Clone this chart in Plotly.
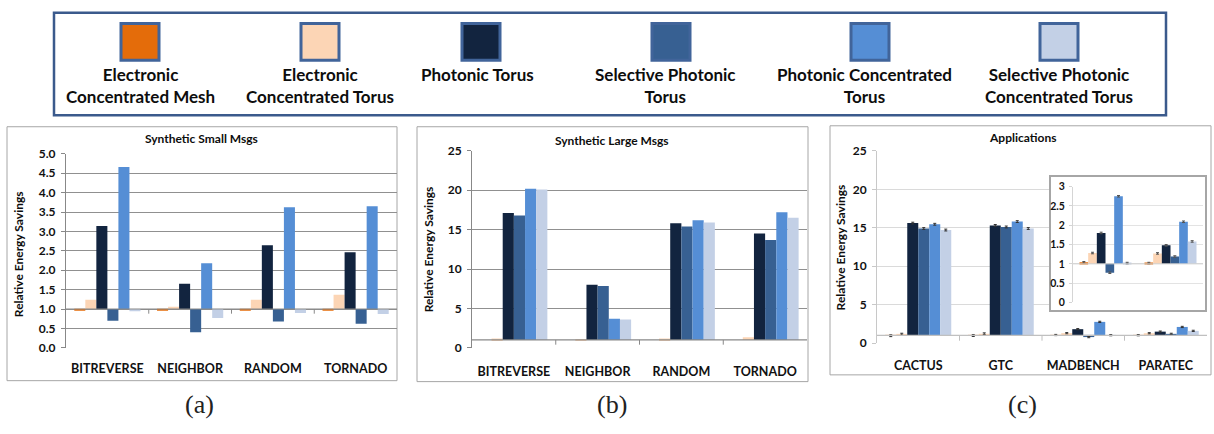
import plotly.graph_objects as go

# ---------------- data ----------------
series_names = [
    "Electronic<br>Concentrated Mesh",
    "Electronic<br>Concentrated Torus",
    "Photonic Torus",
    "Selective Photonic<br>Torus",
    "Photonic Concentrated<br>Torus",
    "Selective Photonic<br>Concentrated Torus",
]
colors = ["#E46C0A", "#FCD5B5", "#12243F", "#376092", "#558ED5", "#C3D0E6"]

synthetic_cats = ["BITREVERSE", "NEIGHBOR", "RANDOM", "TORNADO"]
app_cats = ["CACTUS", "GTC", "MADBENCH", "PARATEC"]

# Synthetic small messages (per series, per category)
small_ecm = [0.98, 0.98, 0.98, 0.98]
small_ect = [1.24, 1.06, 1.24, 1.37]
small_pt = [3.14, 1.65, 2.64, 2.46]
small_spt = [0.70, 0.40, 0.68, 0.62]
small_pct = [4.66, 2.18, 3.62, 3.65]
small_spct = [0.94, 0.77, 0.90, 0.87]

# Synthetic large messages
large_ecm = [1.0, 1.0, 1.0, 1.0]
large_ect = [1.2, 1.05, 1.2, 1.35]
large_pt = [17.1, 8.0, 15.8, 14.5]
large_spt = [16.8, 7.85, 15.4, 13.7]
large_pct = [20.2, 3.7, 16.2, 17.2]
large_spct = [20.1, 3.6, 15.9, 16.5]

# Applications
app_ecm = [0.95, 0.97, 1.04, 1.02]
app_ect = [1.15, 1.2, 1.28, 1.27]
app_pt = [15.6, 15.3, 1.80, 1.48]
app_spt = [14.9, 15.1, 0.77, 1.19]
app_pct = [15.45, 15.8, 2.75, 2.09]
app_spct = [14.7, 14.9, 1.02, 1.58]
app_err = [0.03, 0.03, 0.02, 0.02]

small_vals = [small_ecm, small_ect, small_pt, small_spt, small_pct, small_spct]
large_vals = [large_ecm, large_ect, large_pt, large_spt, large_pct, large_spct]
app_vals = [app_ecm, app_ect, app_pt, app_spt, app_pct, app_spct]

panel_titles = ["Synthetic Small Msgs", "Synthetic Large Msgs", "Applications"]
panel_labels = ["(a)", "(b)", "(c)"]
y_title = "Relative Energy Savings"

# ---------------- layout helpers ----------------
W, H = 1214, 434
FONT = "Lato"


def fx(p):
    return p / W


def fy(p):
    return 1 - p / H


BASE = 1.0
fig = go.Figure()

# bars
for i in range(6):
    fig.add_trace(go.Bar(x=synthetic_cats, y=[v - BASE for v in small_vals[i]], base=BASE,
                         marker=dict(color=colors[i], line=dict(width=0)),
                         xaxis="x", yaxis="y", showlegend=False))
for i in range(6):
    fig.add_trace(go.Bar(x=synthetic_cats, y=[v - BASE for v in large_vals[i]], base=BASE,
                         marker=dict(color=colors[i], line=dict(width=0)),
                         xaxis="x2", yaxis="y2", showlegend=False))
for i in range(6):
    fig.add_trace(go.Bar(x=app_cats, y=[v - BASE for v in app_vals[i]], base=BASE,
                         marker=dict(color=colors[i], line=dict(width=0)),
                         error_y=dict(type="data", array=[e * 4 for e in app_err],
                                      thickness=1, width=1.5, color="#333333"),
                         xaxis="x3", yaxis="y3", showlegend=False))
# inset box subplot (empty)
fig.add_trace(go.Scatter(x=[None], y=[None], xaxis="x4", yaxis="y4", showlegend=False))
# inset bars
for i in range(6):
    fig.add_trace(go.Bar(x=app_cats[2:], y=[v - BASE for v in app_vals[i][2:]], base=BASE,
                         marker=dict(color=colors[i], line=dict(width=0)),
                         error_y=dict(type="data", array=app_err[2:],
                                      thickness=1, width=1.5, color="#555555"),
                         xaxis="x5", yaxis="y5", showlegend=False))

bold = dict(family=FONT, weight=700, color="#111111")


def xax(dom, anchor, standoff):
    return dict(domain=dom, anchor=anchor, range=[-0.5, 3.5], showgrid=False, showline=False,
                zeroline=False, ticks="outside", ticklen=standoff, tickcolor="rgba(0,0,0,0)",
                tickfont=dict(size=12.5, **bold), fixedrange=True)


def yax(dom, anchor, rng, dtick, fmt, grid, line):
    return dict(domain=dom, anchor=anchor, range=rng, dtick=dtick, tickformat=fmt,
                showgrid=True, gridcolor=grid, gridwidth=1, showline=True, linecolor=line,
                linewidth=1, zeroline=False, ticks="outside", ticklen=4, tickcolor=line,
                ticklabelstandoff=3, tickfont=dict(size=12, **bold), fixedrange=True)


fig.update_layout(
    width=W, height=H, margin=dict(l=0, r=0, t=0, b=0),
    paper_bgcolor="white", plot_bgcolor="white",
    barmode="group", bargap=0.2, bargroupgap=0,
    font=dict(family=FONT),
    xaxis=xax([fx(66), fx(397)], "y", 9),
    yaxis=yax([fy(352), fy(151)], "x", [0, 5], 0.5, ".1f", "#909090", "#888888"),
    xaxis2=xax([fx(472), fx(807)], "y2", 12),
    yaxis2=yax([fy(352), fy(148)], "x2", [0, 25], 5, "d", "#909090", "#888888"),
    xaxis3=xax([fx(877), fx(1207)], "y3", 11),
    yaxis3=yax([fy(347), fy(148)], "x3", [0, 25], 5, "d", "#DADADA", "#C8C8C8"),
    xaxis4=dict(domain=[fx(1051), fx(1205)], anchor="y4", range=[0, 1], showline=True,
                mirror=True, linecolor="#A6A6A6", linewidth=1.5, showgrid=False, zeroline=False,
                showticklabels=False, ticks="", fixedrange=True),
    yaxis4=dict(domain=[fy(313), fy(175)], anchor="x4", range=[0, 1], showline=True,
                mirror=True, linecolor="#A6A6A6", linewidth=1.5, showgrid=False, zeroline=False,
                showticklabels=False, ticks="", fixedrange=True),
    xaxis5=dict(domain=[fx(1073), fx(1203)], anchor="y5", range=[-0.5, 1.5], showgrid=False,
                showline=False, zeroline=False, showticklabels=False, ticks="", fixedrange=True),
    yaxis5=dict(domain=[fy(305), fy(185)], anchor="x5", range=[0, 3], dtick=0.5,
                showgrid=True, gridcolor="#E3E3E3", showline=True, linecolor="#D5D5D5",
                zeroline=False, ticks="outside", ticklen=3, tickcolor="#D5D5D5",
                ticklabelstandoff=2, tickfont=dict(size=10.5, **bold), fixedrange=True),
)

shapes = []
annotations = []

# legend box
shapes.append(dict(type="rect", xref="paper", yref="paper", x0=fx(54), x1=fx(1166),
                   y0=fy(111), y1=fy(5), line=dict(color="#3B5A8C", width=2.5),
                   fillcolor="white", layer="below"))
sw_cx = [140, 320, 481, 671, 870, 1059]
tx_cx = [140, 320, 477, 665, 864, 1059]
for i in range(6):
    shapes.append(dict(type="rect", xref="paper", yref="paper",
                       x0=fx(sw_cx[i] - 19), x1=fx(sw_cx[i] + 19), y0=fy(54), y1=fy(16),
                       fillcolor=colors[i], line=dict(color="#41649A", width=3)))
    two = "<br>" in series_names[i]
    annotations.append(dict(xref="paper", yref="paper", x=fx(tx_cx[i]),
                            y=fy(80 if two else 69), text=series_names[i], showarrow=False,
                            xanchor="center", yanchor="middle", align="center",
                            font=dict(family=FONT, size=17, weight=700, color="#0d0d0d")))

# panel borders
for (l, t, r, b) in [(7, 123, 397, 386), (417, 123, 808, 387), (830, 122, 1211, 380)]:
    shapes.append(dict(type="rect", xref="paper", yref="paper", x0=fx(l), x1=fx(r),
                       y0=fy(b), y1=fy(t), line=dict(color="#A6A6A6", width=1), layer="below"))

# x-axis line at base value and category boundary ticks
for xa, ya, col, tk in [("x", "y", "#888888", 0.12), ("x2", "y2", "#888888", 0.6),
                        ("x3", "y3", "#C0C0C0", 0.7)]:
    shapes.append(dict(type="line", xref=xa + " domain", yref=ya, x0=0, x1=1, y0=BASE, y1=BASE,
                       line=dict(color=col, width=1.2), layer="above"))
    for k in range(3):
        shapes.append(dict(type="line", xref=xa, yref=ya, x0=k + 0.5, x1=k + 0.5,
                           y0=BASE, y1=BASE - tk, line=dict(color=col, width=1)))
shapes.append(dict(type="line", xref="x5 domain", yref="y5", x0=0, x1=1, y0=BASE, y1=BASE,
                   line=dict(color="#D0D0D0", width=1), layer="above"))

# titles, y-axis titles, panel labels
title_pos = [(202, 135), (612, 137), (1022, 134)]
ytitle_pos = [(18, 255), (428, 250), (840, 248)]
label_pos = [(200, 411), (612, 411), (1022, 411)]
for i in range(3):
    annotations.append(dict(xref="paper", yref="paper", x=fx(title_pos[i][0]), y=fy(title_pos[i][1]),
                            text=panel_titles[i], showarrow=False, xanchor="center",
                            yanchor="middle", font=dict(family=FONT, size=12, weight=700,
                                                        color="#0d0d0d")))
    annotations.append(dict(xref="paper", yref="paper", x=fx(ytitle_pos[i][0]), y=fy(ytitle_pos[i][1]),
                            text=y_title, showarrow=False, textangle=-90, xanchor="center",
                            yanchor="middle", font=dict(family=FONT, size=12, weight=700,
                                                        color="#0d0d0d")))
    annotations.append(dict(xref="paper", yref="paper", x=fx(label_pos[i][0]), y=fy(label_pos[i][1]),
                            text=panel_labels[i], showarrow=False, xanchor="center",
                            yanchor="middle", font=dict(family="Liberation Serif", size=26,
                                                        color="#222222")))

fig.update_layout(shapes=shapes, annotations=annotations)
fig.write_html("out.html")
